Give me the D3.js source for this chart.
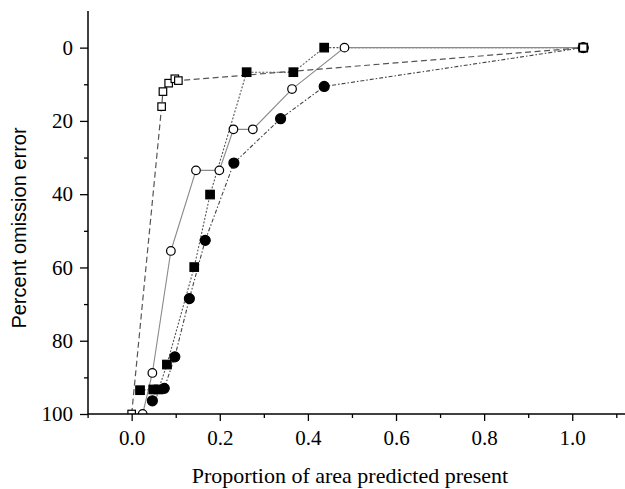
<!DOCTYPE html>
<html>
<head>
<meta charset="utf-8">
<script src="https://cdn.jsdelivr.net/npm/d3@7"></script>
<style>
  html, body { margin: 0; padding: 0; background: #fff; }
  svg { display: block; }
</style>
</head>
<body>
<svg id="chart" width="625" height="489"></svg>
<script>
// Omission error vs. proportion of area predicted present, four model runs
const openSquareX  = [0, 0.068, 0.071, 0.084, 0.098, 0.106, 1.025];
const openSquareY  = [100, 16.1, 12.0, 9.7, 8.5, 9.0, 0];

const openCircleX  = [0.025, 0.047, 0.089, 0.146, 0.199, 0.231, 0.275, 0.364, 0.483, 1.025];
const openCircleY  = [100, 88.8, 55.5, 33.5, 33.5, 22.3, 22.3, 11.3, 0, 0];

const filledSquareX = [0.019, 0.049, 0.061, 0.080, 0.142, 0.178, 0.261, 0.367, 0.437, 1.025];
const filledSquareY = [93.5, 93.3, 93.3, 86.5, 59.9, 40.1, 6.7, 6.7, 0, 0];

const filledCircleX = [0.047, 0.074, 0.098, 0.131, 0.167, 0.232, 0.338, 0.437, 1.025];
const filledCircleY = [96.4, 93.0, 84.4, 68.5, 52.6, 31.5, 19.4, 10.6, 0];

const xMajorTicks = [0, 0.2, 0.4, 0.6, 0.8, 1.0];
const xMinorTicks = [-0.1, 0.1, 0.3, 0.5, 0.7, 0.9, 1.1];
const yMajorTicks = [0, 20, 40, 60, 80, 100];
const yMinorTicks = [10, 30, 50, 70, 90];

const xTitle = "Proportion of area predicted present";
const yTitle = "Percent omission error";

const svg = d3.select("#chart");
const W = 625;

const x = d3.scaleLinear().domain([-0.1, 1.1]).range([87.6, 616.3]);
const y = d3.scaleLinear().domain([-10, 100]).range([11, 414]);

const zip = (xs, ys) => xs.map((v, i) => ({ x: v, y: ys[i] }));

const series = [
  { name: "filledCircle", pts: zip(filledCircleX, filledCircleY), dash: "4,2,1.5,2", stroke: "#444", width: 1.1, shape: "circle", fill: "#000", size: 5 },
  { name: "filledSquare", pts: zip(filledSquareX, filledSquareY), dash: "2,1.6",     stroke: "#555", width: 1.1, shape: "square", fill: "#000", size: 8.5 },
  { name: "openCircle",   pts: zip(openCircleX, openCircleY),     dash: null,        stroke: "#8a8a8a", width: 1.1, shape: "circle", fill: "#fff", size: 4.3 },
  { name: "openSquare",   pts: zip(openSquareX, openSquareY),     dash: "6,3.5",     stroke: "#555", width: 1.2, shape: "square", fill: "#fff", size: 7.5 }
];

// clip plotting region at the axes
svg.append("defs").append("clipPath").attr("id", "plotClip")
  .append("rect").attr("x", 88).attr("y", 0).attr("width", W - 88).attr("height", 414);

const plot = svg.append("g").attr("clip-path", "url(#plotClip)");

const line = d3.line().x(d => x(d.x)).y(d => y(d.y));

series.forEach(s => {
  plot.append("path")
    .datum(s.pts)
    .attr("d", line)
    .attr("fill", "none")
    .attr("stroke", s.stroke)
    .attr("stroke-width", s.width)
    .attr("stroke-dasharray", s.dash);
});

series.forEach(s => {
  const g = plot.append("g");
  if (s.shape === "circle") {
    g.selectAll("circle").data(s.pts).join("circle")
      .attr("cx", d => x(d.x)).attr("cy", d => y(d.y)).attr("r", s.size)
      .attr("fill", s.fill).attr("stroke", "#000").attr("stroke-width", 1.2);
  } else {
    g.selectAll("rect").data(s.pts).join("rect")
      .attr("x", d => x(d.x) - s.size / 2).attr("y", d => y(d.y) - s.size / 2)
      .attr("width", s.size).attr("height", s.size)
      .attr("fill", s.fill).attr("stroke", "#000").attr("stroke-width", 1.2);
  }
});

// axes
const serif = "'Liberation Serif', 'Times New Roman', serif";

const xMinor = svg.append("g").attr("transform", "translate(0,414)")
  .call(d3.axisBottom(x).tickValues(xMinorTicks).tickSize(4).tickFormat(""));
const xMajor = svg.append("g").attr("transform", "translate(0,414)")
  .call(d3.axisBottom(x).tickValues(xMajorTicks).tickSize(7).tickFormat(d3.format(".1f")));
[xMinor, xMajor].forEach(g => g.select(".domain").remove());
xMajor.selectAll("text").attr("y", 31).attr("dy", 0)
  .attr("font-family", serif).attr("font-size", 21).attr("fill", "#000");

svg.append("line").attr("x1", 88).attr("x2", W).attr("y1", 414).attr("y2", 414)
  .attr("stroke", "#000").attr("stroke-width", 1.5);

const yMinor = svg.append("g").attr("transform", "translate(88,0)")
  .call(d3.axisLeft(y).tickValues(yMinorTicks).tickSize(4).tickFormat(""));
const yMajor = svg.append("g").attr("transform", "translate(88,0)")
  .call(d3.axisLeft(y).tickValues(yMajorTicks).tickSize(8).tickPadding(7));
[yMinor, yMajor].forEach(g => g.select(".domain").remove());
yMajor.selectAll("text").attr("font-family", serif).attr("font-size", 21).attr("fill", "#000");

svg.append("line").attr("x1", 88).attr("x2", 88).attr("y1", 11).attr("y2", 414)
  .attr("stroke", "#000").attr("stroke-width", 1.5);

svg.selectAll(".tick line").attr("stroke", "#000").attr("stroke-width", 1.3);

// titles
svg.append("text")
  .attr("x", 350).attr("y", 483)
  .attr("text-anchor", "middle")
  .attr("font-family", serif).attr("font-size", 22)
  .text(xTitle);

svg.append("text")
  .attr("transform", "translate(26,228) rotate(-90)")
  .attr("text-anchor", "middle")
  .attr("font-family", "'Liberation Sans', Arial, sans-serif").attr("font-size", 20)
  .text(yTitle);
</script>
</body>
</html>
